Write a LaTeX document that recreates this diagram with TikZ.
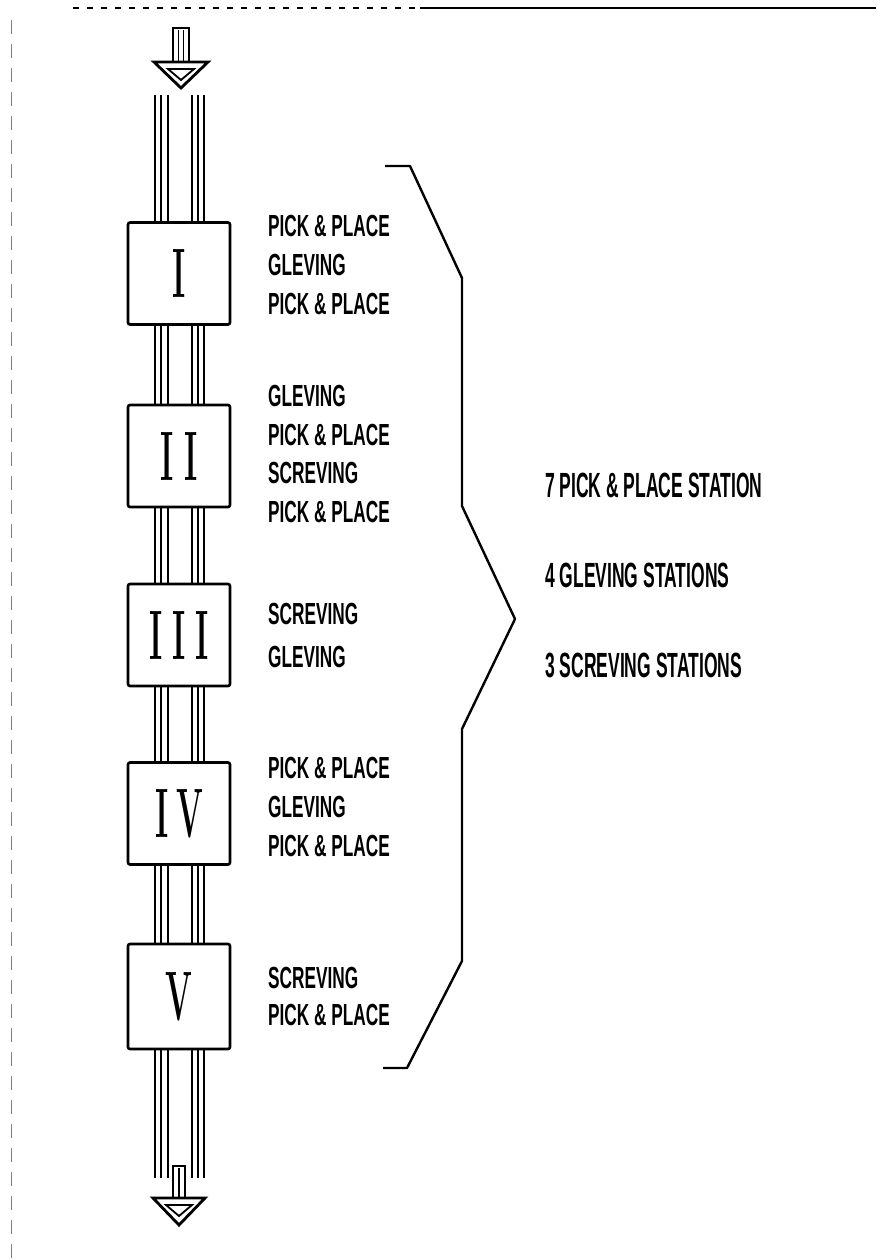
\documentclass[tikz,border=0pt]{standalone}
\usepackage{fontspec}
\usetikzlibrary{calc}
\newfontfamily\plotfont{Liberation Sans}
\newcommand{\lbl}[1]{\scalebox{0.565}[1]{\plotfont\bfseries\fontsize{30.5}{30.5}\selectfont #1}}
\newcommand{\rlbl}[1]{\scalebox{0.5}[1]{\plotfont\bfseries\fontsize{35}{35}\selectfont #1}}
\newcommand{\rnl}[1]{\scalebox{0.45}[1]{\fontsize{70}{70}\selectfont\bfseries #1}}
\newcommand{\rail}[2]{\foreach \o in {-24,-18,-11,13,19,25}{\draw[railline] ($(#1)+(\o,0)$) -- ($(#2)+(\o,0)$);}}
\tikzset{
  station/.style={draw, line width=2.6pt, rounded corners=2pt, minimum width=102pt, minimum height=102pt, inner sep=0pt, fill=white},
  railline/.style={line width=2pt},
  lab/.style={anchor=west, inner sep=0pt},
  brace/.style={line width=2.4pt, line join=round},
  arrowpart/.style={line width=2.8pt, line join=miter},
}
\begin{document}
\begin{tikzpicture}[x=1pt,y=-1pt]
\useasboundingbox (0,0) rectangle (876,1260);
% scan border
\draw[line width=1.4pt, dash pattern=on 6pt off 8pt] (73,8) -- (420,8);
\draw[line width=1.6pt] (420,8) -- (876,8);
\draw[line width=0.8pt, gray, dash pattern=on 14pt off 10pt] (11,20) -- (11,1260);

% stations
\node[station] (b1) at (179,273.5) {\rnl{I}};
\node[station] (b2) at (179,456) {\rnl{I}\hspace{10pt}\rnl{I}};
\node[station] (b3) at (179,635) {\rnl{I}\hspace{10pt}\rnl{I}\hspace{10pt}\rnl{I}};
\node[station] (b4) at (179,813.5) {\rnl{I}\hspace{8pt}\rnl{V}};
\node[station, minimum height=105pt] (b5) at (179,996.5) {\rnl{V}};

\coordinate (railtop) at (179,95);
\coordinate (railbot) at (179,1178);

% rails
\rail{railtop}{b1.north}
\rail{b1.south}{b2.north}
\rail{b2.south}{b3.north}
\rail{b3.south}{b4.north}
\rail{b4.south}{b5.north}
\rail{b5.south}{railbot}

% top arrow
\coordinate (inarrow) at (181,62);
\draw[line width=2pt] (173,28) rectangle (189,62);
\draw[line width=1.5pt] (178.5,30) -- (178.5,62) (183.5,30) -- (183.5,62);
\draw[arrowpart] (154,62) -- (208,62) -- (181,88) -- cycle;
\draw[line width=1.8pt] (168,69) -- (194,69) -- (181,80) -- cycle;

% bottom arrow
\coordinate (outarrow) at (179,1198);
\draw[line width=2pt] (173,1166) rectangle (185,1198);
\draw[line width=1.4pt] (179,1168) -- (179,1198);
\draw[arrowpart] (153,1198) -- (205,1198) -- (179,1225) -- cycle;
\draw[line width=1.8pt] (166,1205) -- (192,1205) -- (179,1216) -- cycle;

% labels
\node[lab] (l11) at (268,226) {\lbl{PICK \& PLACE}};
\node[lab] (l12) at (268,265) {\lbl{GLEVING}};
\node[lab] (l13) at (268,304) {\lbl{PICK \& PLACE}};

\node[lab] (l21) at (268,396) {\lbl{GLEVING}};
\node[lab] (l22) at (268,435) {\lbl{PICK \& PLACE}};
\node[lab] (l23) at (268,473) {\lbl{SCREVING}};
\node[lab] (l24) at (268,512) {\lbl{PICK \& PLACE}};

\node[lab] (l31) at (268,614) {\lbl{SCREVING}};
\node[lab] (l32) at (268,657) {\lbl{GLEVING}};

\node[lab] (l41) at (268,768) {\lbl{PICK \& PLACE}};
\node[lab] (l42) at (268,807) {\lbl{GLEVING}};
\node[lab] (l43) at (268,846) {\lbl{PICK \& PLACE}};

\node[lab] (l51) at (268,978) {\lbl{SCREVING}};
\node[lab] (l52) at (268,1015) {\lbl{PICK \& PLACE}};

% bracket
\draw[brace] (385,166) -- (410,166) -- (462,278) -- (462,506) -- (515,619)
  -- (462,729) -- (462,961) -- (407,1068) -- (383,1068);

% summary
\node[lab] (s1) at (545,485) {\rlbl{7 PICK \& PLACE STATION}};
\node[lab] (s2) at (545,575) {\rlbl{4 GLEVING STATIONS}};
\node[lab] (s3) at (545,665) {\rlbl{3 SCREVING STATIONS}};
\end{tikzpicture}
\end{document}
